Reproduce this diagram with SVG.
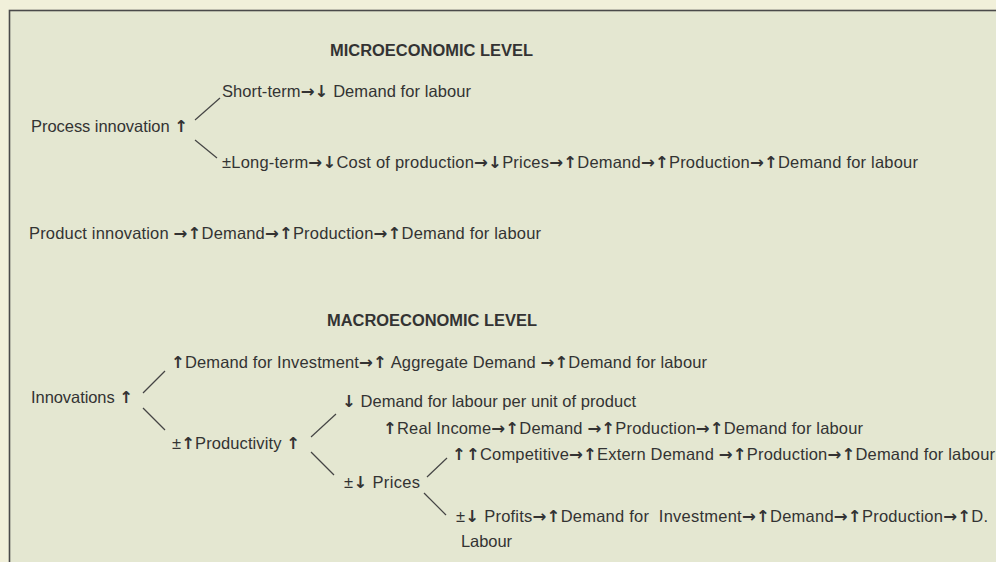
<svg xmlns="http://www.w3.org/2000/svg" width="996" height="562" viewBox="0 0 996 562">
<style>
text{font-family:"Liberation Sans",Arial,sans-serif;font-size:16.5px;fill:#333;white-space:pre}
.h{font-weight:bold;font-size:16px}
.a{font-family:"DejaVu Sans",sans-serif;font-size:16.5px;font-weight:bold}
.c line{stroke:#444;stroke-width:1.2}
</style>
<rect x="0" y="0" width="996" height="562" fill="#f1f0da"/>
<rect x="9.5" y="10.5" width="1000" height="560" fill="#e4e7d1" stroke="#4a4a4a" stroke-width="1.6"/>
<g id="micro-title"><text class="h" x="330" y="56" textLength="203" lengthAdjust="spacingAndGlyphs">MICROECONOMIC LEVEL</text></g>
<g id="process"><text x="31" y="132" textLength="157">Process innovation <tspan class="a">↑</tspan></text></g>
<g id="short"><text x="222" y="97" textLength="249">Short-term<tspan class="a">→↓</tspan> Demand for labour</text></g>
<g id="long"><text x="222" y="168" textLength="696">±Long-term<tspan class="a">→↓</tspan>Cost of production<tspan class="a">→↓</tspan>Prices<tspan class="a">→↑</tspan>Demand<tspan class="a">→↑</tspan>Production<tspan class="a">→↑</tspan>Demand for labour</text></g>
<g id="product"><text x="29" y="239" textLength="512">Product innovation <tspan class="a">→↑</tspan>Demand<tspan class="a">→↑</tspan>Production<tspan class="a">→↑</tspan>Demand for labour</text></g>
<g id="macro-title"><text class="h" x="327" y="326" textLength="210" lengthAdjust="spacingAndGlyphs">MACROECONOMIC LEVEL</text></g>
<g id="innov"><text x="31" y="403" textLength="102">Innovations <tspan class="a">↑</tspan></text></g>
<g id="invest"><text x="171" y="368" textLength="536"><tspan class="a">↑</tspan>Demand for Investment<tspan class="a">→↑</tspan> Aggregate Demand <tspan class="a">→↑</tspan>Demand for labour</text></g>
<g id="productivity"><text x="172" y="449" textLength="128">±<tspan class="a">↑</tspan>Productivity <tspan class="a">↑</tspan></text></g>
<g id="perunit"><text x="342" y="407" textLength="294"><tspan class="a">↓</tspan> Demand for labour per unit of product</text></g>
<g id="realincome"><text x="383" y="434" textLength="480"><tspan class="a">↑</tspan>Real Income<tspan class="a">→↑</tspan>Demand <tspan class="a">→↑</tspan>Production<tspan class="a">→↑</tspan>Demand for labour</text></g>
<g id="prices"><text x="344" y="488" textLength="76">±<tspan class="a">↓</tspan> Prices</text></g>
<g id="competitive"><text x="452" y="460" textLength="543"><tspan class="a">↑↑</tspan>Competitive<tspan class="a">→↑</tspan>Extern Demand <tspan class="a">→↑</tspan>Production<tspan class="a">→↑</tspan>Demand for labour</text></g>
<g id="profits"><text x="456" y="522" textLength="532">±<tspan class="a">↓</tspan> Profits<tspan class="a">→↑</tspan>Demand for  Investment<tspan class="a">→↑</tspan>Demand<tspan class="a">→↑</tspan>Production<tspan class="a">→↑</tspan>D.</text><text x="461" y="547" textLength="51">Labour</text></g>
<g id="connectors" class="c">
<line x1="195" y1="120" x2="220" y2="98"/>
<line x1="195" y1="140" x2="217" y2="158"/>
<line x1="143" y1="393" x2="165" y2="371"/>
<line x1="143" y1="408" x2="165" y2="430"/>
<line x1="311" y1="437" x2="336" y2="414"/>
<line x1="311" y1="452" x2="334" y2="475"/>
<line x1="427" y1="477" x2="447" y2="458"/>
<line x1="424" y1="493" x2="446" y2="515"/>
</g>
</svg>
